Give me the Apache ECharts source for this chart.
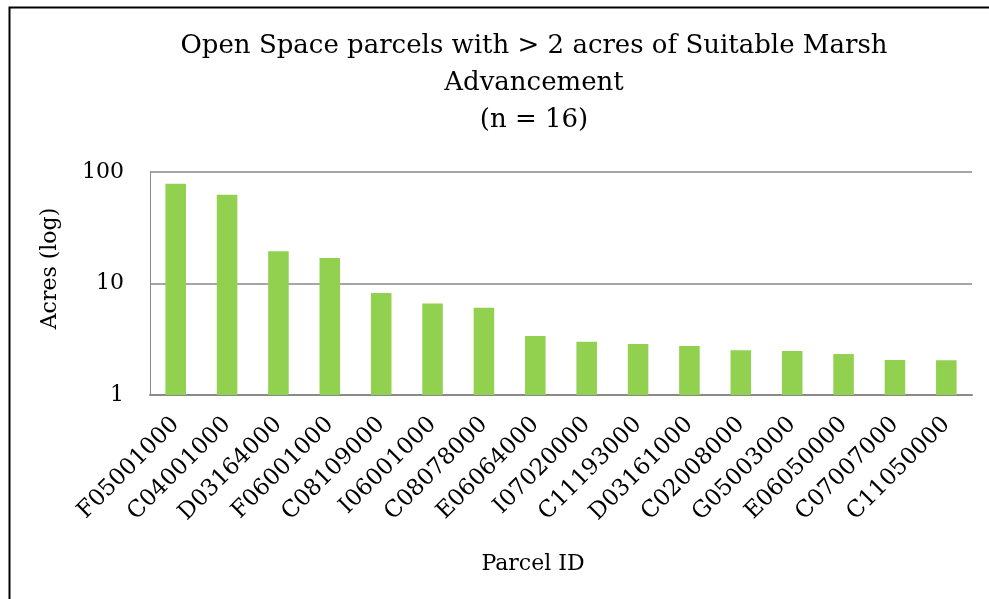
<!DOCTYPE html>
<html>
<head>
<meta charset="utf-8">
<script src="https://cdn.jsdelivr.net/npm/echarts@6/dist/echarts.min.js"></script>
<style>html,body{margin:0;padding:0;background:#fff;}#c{width:989px;height:599px;}</style>
</head>
<body>
<div id="c"></div>
<script>
const categories = ["F05001000","C04001000","D03164000","F06001000","C08109000","I06001000","C08078000","E06064000","I07020000","C11193000","D03161000","C02008000","G05003000","E06050000","C07007000","C11050000"];
const acres = [78.5, 62.5, 19.5, 16.9, 8.2, 6.6, 6.05, 3.39, 3.0, 2.87, 2.75, 2.52, 2.48, 2.33, 2.06, 2.05];
const titleText = "Open Space parcels with > 2 acres of Suitable Marsh\nAdvancement\n(n = 16)";
const FONT = "DejaVu Serif";

const chart = echarts.init(document.getElementById('c'));
chart.setOption({
  animation: false,
  backgroundColor: '#fff',
  title: {
    text: titleText,
    left: 529, top: 23, textAlign: 'center',
    textStyle: { fontFamily: FONT, fontSize: 26, fontWeight: 'normal', color: '#000', lineHeight: 37 }
  },
  graphic: [{
    type: 'rect', left: 7, top: 5, silent: true,
    shape: { width: 1100, height: 700 },
    style: { fill: null, stroke: '#000', lineWidth: 2 }
  }],
  grid: { left: 150, right: 17, top: 172, bottom: 204, containLabel: false },
  xAxis: {
    type: 'category', data: categories,
    name: 'Parcel ID', nameLocation: 'middle', nameGap: 158,
    nameTextStyle: { fontFamily: FONT, fontSize: 22, color: '#000', padding: [0, 56, 0, 0] },
    axisLine: { lineStyle: { color: '#898989', width: 2 } },
    axisTick: { show: false },
    axisLabel: { rotate: 45, margin: 26, fontFamily: FONT, fontSize: 23, color: '#000', interval: 0 }
  },
  yAxis: {
    type: 'log', logBase: 10, min: 1, max: 100,
    name: 'Acres (log)', nameLocation: 'middle', nameGap: 89, nameRotate: 90,
    nameTextStyle: { fontFamily: FONT, fontSize: 22, color: '#000', padding: [0, 0, 0, 30] },
    axisLine: { show: true, lineStyle: { color: '#898989', width: 1 } },
    axisTick: { show: false },
    splitLine: { lineStyle: { color: '#a6a6a6', width: 2 } },
    axisLabel: { fontFamily: FONT, fontSize: 22, color: '#000', margin: 26 }
  },
  series: [{
    type: 'bar', data: acres, barWidth: '40%',
    itemStyle: { color: '#92D050' }
  }]
});
</script>
</body>
</html>
